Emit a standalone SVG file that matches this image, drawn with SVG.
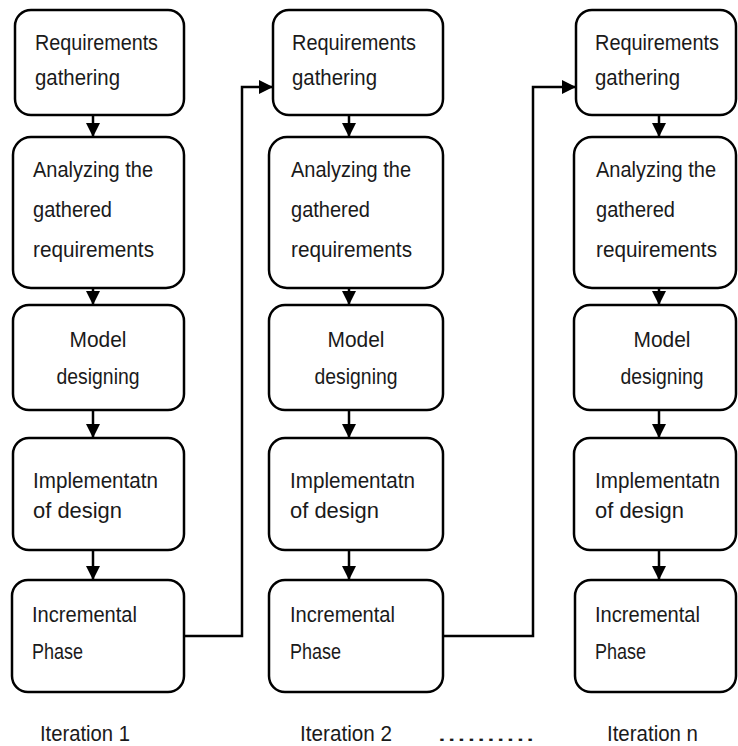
<svg xmlns="http://www.w3.org/2000/svg" width="738" height="746" viewBox="0 0 738 746">
<defs>
<style>
.box{fill:#fff;stroke:#000;stroke-width:2.5}
.t{font-family:"Liberation Sans",Arial,sans-serif;font-size:22px;fill:#1a1a1a}
.c{text-anchor:middle}
.ln{fill:none;stroke:#000;stroke-width:2.5}
</style>
<marker id="ah" markerUnits="userSpaceOnUse" markerWidth="14" markerHeight="14" viewBox="0 0 14 14" refX="14" refY="7" orient="auto">
<path d="M0,0 L14,7 L0,14 Z" fill="#000"/>
</marker>
</defs>
<rect width="738" height="746" fill="#fff"/>
<g id="connectors">
<line class="ln" x1="93" y1="115" x2="93" y2="137" marker-end="url(#ah)"/>
<line class="ln" x1="93" y1="288" x2="93" y2="305" marker-end="url(#ah)"/>
<line class="ln" x1="93" y1="410" x2="93" y2="438" marker-end="url(#ah)"/>
<line class="ln" x1="93" y1="550" x2="93" y2="580" marker-end="url(#ah)"/>
<line class="ln" x1="349" y1="115" x2="349" y2="137" marker-end="url(#ah)"/>
<line class="ln" x1="349" y1="288" x2="349" y2="305" marker-end="url(#ah)"/>
<line class="ln" x1="349" y1="410" x2="349" y2="438" marker-end="url(#ah)"/>
<line class="ln" x1="349" y1="550" x2="349" y2="580" marker-end="url(#ah)"/>
<line class="ln" x1="659" y1="115" x2="659" y2="137" marker-end="url(#ah)"/>
<line class="ln" x1="659" y1="288" x2="659" y2="305" marker-end="url(#ah)"/>
<line class="ln" x1="659" y1="410" x2="659" y2="438" marker-end="url(#ah)"/>
<line class="ln" x1="659" y1="550" x2="659" y2="580" marker-end="url(#ah)"/>
<path class="ln" d="M184,636 H242 V87 H273" marker-end="url(#ah)"/>
<path class="ln" d="M443,636 H533 V87 H576" marker-end="url(#ah)"/>
</g>
<g id="c1-req"><rect class="box" x="15" y="10" width="169" height="105" rx="16"/>
<text class="t" x="35" y="50" textLength="123" lengthAdjust="spacingAndGlyphs">Requirements</text>
<text class="t" x="35" y="85" textLength="85" lengthAdjust="spacingAndGlyphs">gathering</text></g>
<g id="c1-ana"><rect class="box" x="13" y="137" width="171" height="151" rx="18"/>
<text class="t" x="33" y="177" textLength="120" lengthAdjust="spacingAndGlyphs">Analyzing the</text>
<text class="t" x="33" y="217" textLength="79" lengthAdjust="spacingAndGlyphs">gathered</text>
<text class="t" x="33" y="257" textLength="121" lengthAdjust="spacingAndGlyphs">requirements</text></g>
<g id="c1-mod"><rect class="box" x="13" y="305" width="171" height="105" rx="16"/>
<text class="t c" x="98" y="347" textLength="57" lengthAdjust="spacingAndGlyphs">Model</text>
<text class="t c" x="98" y="384" textLength="83" lengthAdjust="spacingAndGlyphs">designing</text></g>
<g id="c1-imp"><rect class="box" x="13" y="438" width="171" height="112" rx="16"/>
<text class="t" x="33" y="488" textLength="125" lengthAdjust="spacingAndGlyphs">Implementatn</text>
<text class="t" x="33" y="518" textLength="89" lengthAdjust="spacingAndGlyphs">of design</text></g>
<g id="c1-inc"><rect class="box" x="12" y="580" width="172" height="112" rx="16"/>
<text class="t" x="32" y="622" textLength="105" lengthAdjust="spacingAndGlyphs">Incremental</text>
<text class="t" x="32" y="659" textLength="51" lengthAdjust="spacingAndGlyphs">Phase</text></g>

<g id="c2-req"><rect class="box" x="273" y="10" width="170" height="105" rx="16"/>
<text class="t" x="292" y="50" textLength="124" lengthAdjust="spacingAndGlyphs">Requirements</text>
<text class="t" x="292" y="85" textLength="85" lengthAdjust="spacingAndGlyphs">gathering</text></g>
<g id="c2-ana"><rect class="box" x="269" y="137" width="174" height="151" rx="18"/>
<text class="t" x="291" y="177" textLength="120" lengthAdjust="spacingAndGlyphs">Analyzing the</text>
<text class="t" x="291" y="217" textLength="79" lengthAdjust="spacingAndGlyphs">gathered</text>
<text class="t" x="291" y="257" textLength="121" lengthAdjust="spacingAndGlyphs">requirements</text></g>
<g id="c2-mod"><rect class="box" x="269" y="305" width="174" height="105" rx="16"/>
<text class="t c" x="356" y="347" textLength="57" lengthAdjust="spacingAndGlyphs">Model</text>
<text class="t c" x="356" y="384" textLength="83" lengthAdjust="spacingAndGlyphs">designing</text></g>
<g id="c2-imp"><rect class="box" x="269" y="438" width="174" height="112" rx="16"/>
<text class="t" x="290" y="488" textLength="125" lengthAdjust="spacingAndGlyphs">Implementatn</text>
<text class="t" x="290" y="518" textLength="89" lengthAdjust="spacingAndGlyphs">of design</text></g>
<g id="c2-inc"><rect class="box" x="269" y="580" width="174" height="112" rx="16"/>
<text class="t" x="290" y="622" textLength="105" lengthAdjust="spacingAndGlyphs">Incremental</text>
<text class="t" x="290" y="659" textLength="51" lengthAdjust="spacingAndGlyphs">Phase</text></g>

<g id="c3-req"><rect class="box" x="576" y="10" width="160" height="105" rx="16"/>
<text class="t" x="595" y="50" textLength="124" lengthAdjust="spacingAndGlyphs">Requirements</text>
<text class="t" x="595" y="85" textLength="85" lengthAdjust="spacingAndGlyphs">gathering</text></g>
<g id="c3-ana"><rect class="box" x="574" y="137" width="162" height="151" rx="18"/>
<text class="t" x="596" y="177" textLength="120" lengthAdjust="spacingAndGlyphs">Analyzing the</text>
<text class="t" x="596" y="217" textLength="79" lengthAdjust="spacingAndGlyphs">gathered</text>
<text class="t" x="596" y="257" textLength="121" lengthAdjust="spacingAndGlyphs">requirements</text></g>
<g id="c3-mod"><rect class="box" x="574" y="305" width="162" height="105" rx="16"/>
<text class="t c" x="662" y="347" textLength="57" lengthAdjust="spacingAndGlyphs">Model</text>
<text class="t c" x="662" y="384" textLength="83" lengthAdjust="spacingAndGlyphs">designing</text></g>
<g id="c3-imp"><rect class="box" x="574" y="438" width="162" height="112" rx="16"/>
<text class="t" x="595" y="488" textLength="125" lengthAdjust="spacingAndGlyphs">Implementatn</text>
<text class="t" x="595" y="518" textLength="89" lengthAdjust="spacingAndGlyphs">of design</text></g>
<g id="c3-inc"><rect class="box" x="575" y="580" width="161" height="112" rx="16"/>
<text class="t" x="595" y="622" textLength="105" lengthAdjust="spacingAndGlyphs">Incremental</text>
<text class="t" x="595" y="659" textLength="51" lengthAdjust="spacingAndGlyphs">Phase</text></g>

<g id="labels">
<text class="t" x="40" y="741" textLength="90" lengthAdjust="spacingAndGlyphs">Iteration 1</text>
<text class="t" x="300" y="741" textLength="92" lengthAdjust="spacingAndGlyphs">Iteration 2</text>
<text class="t" x="437" y="741" textLength="98" lengthAdjust="spacingAndGlyphs">..........</text>
<text class="t" x="607" y="741" textLength="91" lengthAdjust="spacingAndGlyphs">Iteration n</text>
</g>
</svg>
